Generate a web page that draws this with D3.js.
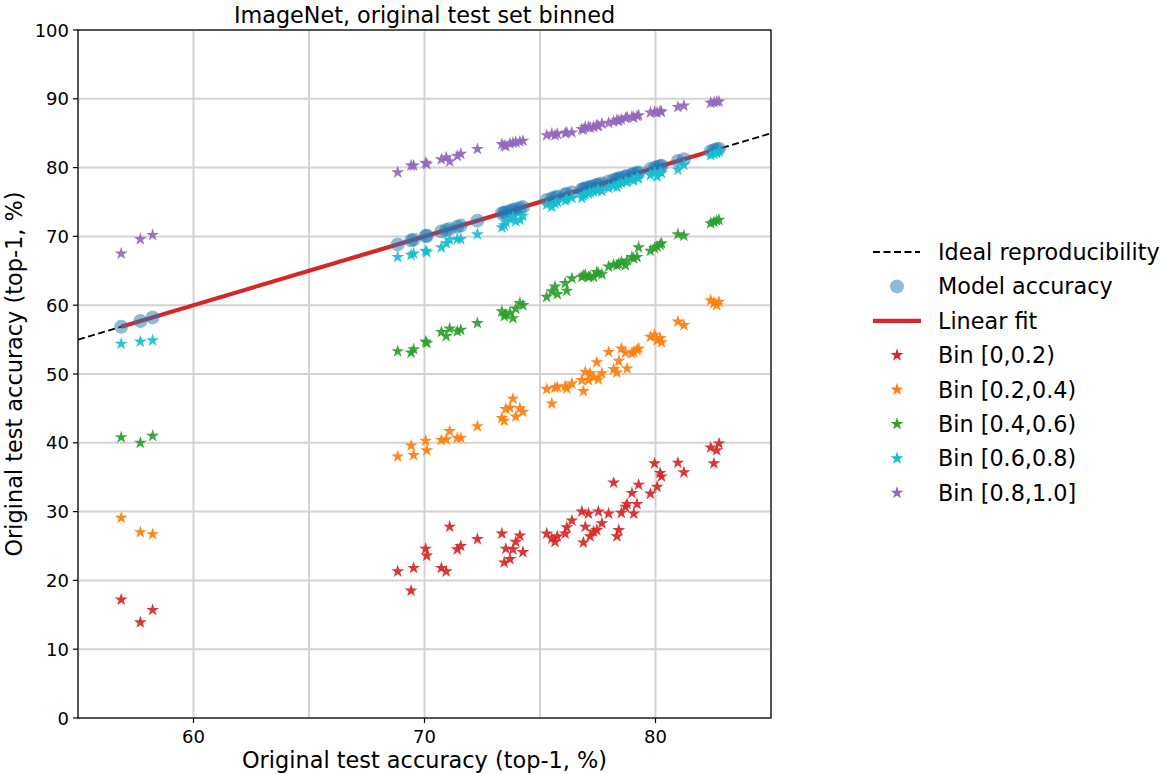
<!DOCTYPE html>
<html><head><meta charset="utf-8">
<script src="https://cdn.jsdelivr.net/npm/d3@7"></script>
<style>
body{margin:0;background:#fff;}
text{font-family:"DejaVu Sans",sans-serif;fill:#000;}
</style></head>
<body><svg id="c" width="1160" height="774"></svg>
<script>
// Original accuracy of each model (x) — also the "Model accuracy" points (y = x)
const modelAcc = [56.87,57.70,58.23,
 68.84,69.42,69.53,70.05,70.10,70.73,70.94,71.09,71.42,71.57,72.29,73.35,73.45,73.52,73.70,73.83,73.95,74.13,74.26,
 75.29,75.51,75.65,75.75,76.09,76.16,76.38,76.81,76.88,76.96,77.10,77.17,77.32,77.46,77.53,77.68,77.97,78.19,78.33,78.41,78.52,78.70,78.77,78.98,79.06,79.20,79.27,79.78,79.96,80.07,80.20,80.26,80.97,81.23,82.39,82.53,82.65,82.75];
const bin0 = [17.2,13.9,15.7,
 21.3,18.5,21.8,24.6,23.6,21.8,21.3,27.8,24.5,25.0,26.0,26.8,22.6,24.6,23.1,24.5,25.6,26.5,24.1,
 26.8,26.1,25.6,26.4,26.8,27.7,28.7,30.0,25.5,27.8,29.7,26.4,27.1,27.3,30.0,28.3,29.7,34.2,26.4,27.3,29.8,30.7,31.1,32.7,29.7,31.1,33.9,32.6,37.0,33.6,35.6,35.1,37.1,35.7,39.3,37.0,38.9,39.9];
const bin1 = [29.1,27.0,26.7,
 38.0,39.6,38.2,40.3,38.9,40.4,40.5,41.7,40.7,40.7,42.4,43.6,43.2,44.9,45.1,46.4,43.8,45.0,44.5,
 47.8,45.7,48.0,48.1,48.2,47.9,48.6,49.1,47.5,50.3,49.1,50.1,49.5,51.7,49.2,50.1,53.2,50.7,50.2,51.9,53.7,53.1,50.8,53.0,53.2,53.5,53.7,55.4,55.7,54.9,55.2,54.6,57.6,57.1,60.7,60.3,60.0,60.5];
const bin2 = [40.8,40.0,41.0,
 53.3,53.1,53.6,54.7,54.5,56.1,55.5,56.6,56.2,56.4,57.4,59.1,58.4,58.6,58.9,58.1,59.5,60.3,60.0,
 61.2,62.0,62.7,61.6,63.2,62.1,63.9,64.1,64.3,64.4,64.1,64.2,64.1,64.8,64.6,64.5,65.6,65.9,65.8,66.0,66.3,65.8,66.5,67.0,66.8,67.0,68.4,67.9,68.3,68.5,68.8,69.0,70.3,70.1,71.9,72.1,72.3,72.4];
const bin3 = [54.4,54.7,54.9,
 67.0,67.3,67.5,67.9,67.7,68.4,69.0,69.5,69.6,69.6,70.3,71.3,71.6,72.1,72.5,72.8,72.2,72.4,73.0,
 74.6,74.3,74.8,75.0,75.2,75.4,75.6,75.6,75.9,76.1,76.2,76.4,76.5,76.6,76.8,76.6,77.0,77.3,77.2,77.6,77.8,78.0,77.9,78.3,78.1,78.6,78.4,78.9,79.3,78.7,79.4,79.2,79.7,80.4,81.8,82.0,82.1,82.3];
const bin4 = [67.5,69.6,70.2,
 79.3,80.3,80.3,80.7,80.5,81.2,81.5,80.9,81.7,82.0,82.7,83.4,83.2,83.1,83.5,83.6,83.7,83.8,83.9,
 84.7,84.9,84.7,84.9,85.0,85.1,85.1,85.6,85.5,85.9,85.9,85.8,85.9,86.2,86.0,86.4,86.5,86.7,86.9,86.8,87.0,87.2,87.3,87.4,87.3,87.5,87.6,88.0,88.1,88.0,88.2,88.1,88.8,89.0,89.4,89.5,89.6,89.6];
const binNames = ["Bin [0,0.2)","Bin [0.2,0.4)","Bin [0.4,0.6)","Bin [0.6,0.8)","Bin [0.8,1.0]"];
const binColors = ["#d62728","#ff7f0e","#2ca02c","#17becf","#9467bd"];
const bins = [bin0,bin1,bin2,bin3,bin4];
const xTicks = [60,70,80];
const xGrid = [55,60,65,70,75,80,85];
const yTicks = [0,10,20,30,40,50,60,70,80,90,100];
const title = "ImageNet, original test set binned";
const xLabel = "Original test accuracy (top-1, %)";
const yLabel = "Original test accuracy (top-1, %)";

const svg = d3.select("#c");
const L=78, R=771, T=30, B=718;
const x = d3.scaleLinear().domain([55,85]).range([L,R]);
const y = d3.scaleLinear().domain([0,100]).range([B,T]);

// grid
const g = svg.append("g");
g.selectAll(".vg").data(xGrid).enter().append("line")
 .attr("x1",d=>x(d)).attr("x2",d=>x(d)).attr("y1",T).attr("y2",B)
 .attr("stroke","#d3d3d3").attr("stroke-width",2);
g.selectAll(".hg").data(yTicks).enter().append("line")
 .attr("x1",L).attr("x2",R).attr("y1",d=>y(d)).attr("y2",d=>y(d))
 .attr("stroke","#d3d3d3").attr("stroke-width",2);

svg.append("clipPath").attr("id","pc").append("rect")
 .attr("x",L).attr("y",T).attr("width",R-L).attr("height",B-T);
const P = svg.append("g").attr("clip-path","url(#pc)");

// ideal line
P.append("line").attr("x1",x(55)).attr("y1",y(55)).attr("x2",x(85)).attr("y2",y(85))
 .attr("stroke","#000").attr("stroke-width",1.8).attr("stroke-dasharray","7,3.5");
// linear fit
const xmin=d3.min(modelAcc), xmax=d3.max(modelAcc);
P.append("line").attr("x1",x(xmin)).attr("y1",y(xmin)).attr("x2",x(xmax)).attr("y2",y(xmax))
 .attr("stroke","#d62728").attr("stroke-width",4.2);
// model accuracy circles
P.selectAll(".m").data(modelAcc).enter().append("circle")
 .attr("cx",d=>x(d)).attr("cy",d=>y(d)).attr("r",7)
 .attr("fill","#1f77b4").attr("fill-opacity",0.5);
// stars
const star = d3.symbol().type(d3.symbolStar).size(52);
bins.forEach((b,i)=>{
  P.selectAll(".s"+i).data(b).enter().append("path")
   .attr("d",star)
   .attr("transform",(d,j)=>`translate(${x(modelAcc[j])},${y(d)})`)
   .attr("fill",binColors[i]).attr("fill-opacity",0.92);
});

// frame
svg.append("rect").attr("x",L).attr("y",T).attr("width",R-L).attr("height",B-T)
 .attr("fill","none").attr("stroke","#000").attr("stroke-width",1.2);

// ticks
xTicks.forEach(t=>{
  svg.append("line").attr("x1",x(t)).attr("x2",x(t)).attr("y1",B).attr("y2",B+5).attr("stroke","#000").attr("stroke-width",1.2);
  svg.append("text").attr("x",x(t)).attr("y",B+25).attr("text-anchor","middle").attr("font-size",18).text(t);
});
yTicks.forEach(t=>{
  svg.append("line").attr("x1",L-5).attr("x2",L).attr("y1",y(t)).attr("y2",y(t)).attr("stroke","#000").attr("stroke-width",1.2);
  svg.append("text").attr("x",L-9).attr("y",y(t)+6.5).attr("text-anchor","end").attr("font-size",18).text(t);
});

svg.append("text").attr("x",(L+R)/2).attr("y",23).attr("text-anchor","middle").attr("font-size",22.3).text(title);
svg.append("text").attr("x",(L+R)/2).attr("y",768).attr("text-anchor","middle").attr("font-size",22.4).text(xLabel);
svg.append("text").attr("transform",`translate(22,${(T+B)/2}) rotate(-90)`).attr("text-anchor","middle").attr("font-size",22.4).text(yLabel);

// legend
const lg = svg.append("g");
const lx=897, tx=938, ly0=252, dy=34.4;
const items = [{t:"Ideal reproducibility",k:"dash"},{t:"Model accuracy",k:"circ"},{t:"Linear fit",k:"line"}]
  .concat(binNames.map((n,i)=>({t:n,k:"star",c:binColors[i]})));
items.forEach((it,i)=>{
  const yy = ly0 + i*dy;
  if(it.k==="dash") lg.append("line").attr("x1",873).attr("x2",920).attr("y1",yy).attr("y2",yy).attr("stroke","#000").attr("stroke-width",1.8).attr("stroke-dasharray","7,3.5");
  if(it.k==="circ") lg.append("circle").attr("cx",lx).attr("cy",yy).attr("r",7).attr("fill","#1f77b4").attr("fill-opacity",0.5);
  if(it.k==="line") lg.append("line").attr("x1",873).attr("x2",921).attr("y1",yy).attr("y2",yy).attr("stroke","#d62728").attr("stroke-width",4.2);
  if(it.k==="star") lg.append("path").attr("d",star).attr("transform",`translate(${lx},${yy})`).attr("fill",it.c);
  lg.append("text").attr("x",tx).attr("y",yy+8).attr("font-size",22.3).text(it.t);
});
</script></body></html>
